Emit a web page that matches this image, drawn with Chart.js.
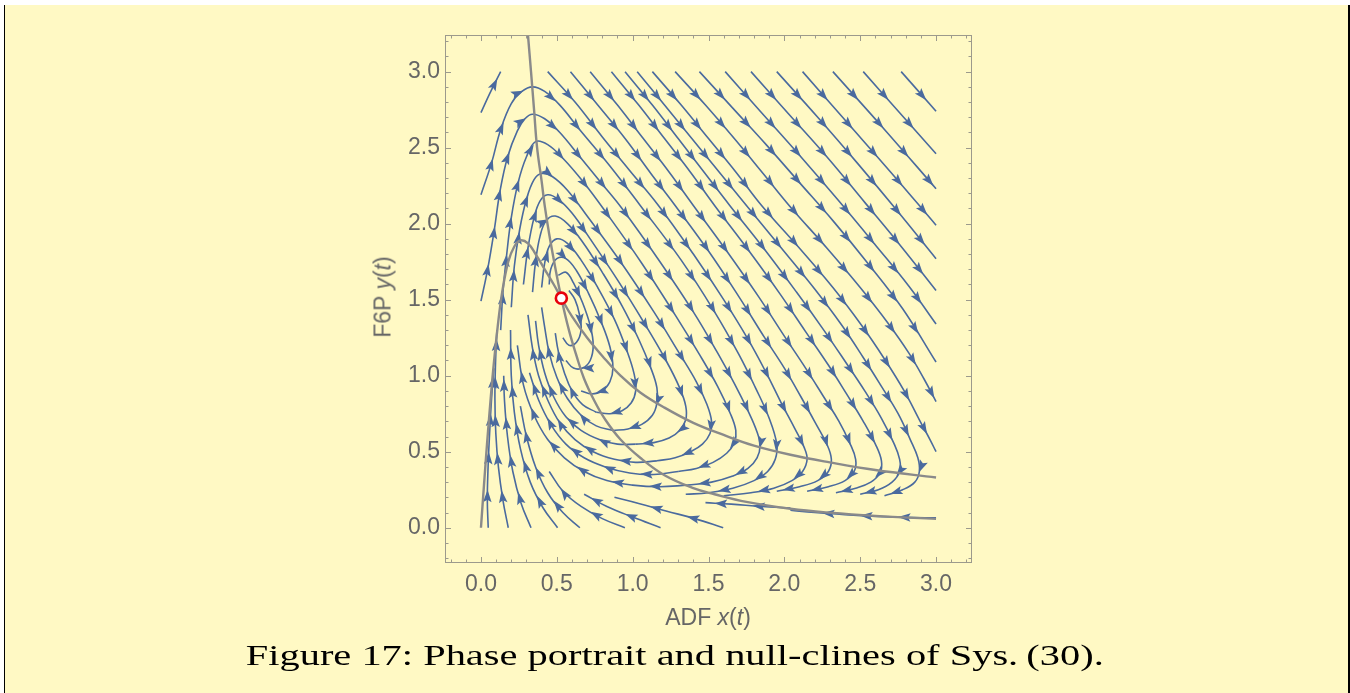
<!DOCTYPE html>
<html>
<head>
<meta charset="utf-8">
<title>Phase portrait</title>
<script src="https://cdn.jsdelivr.net/npm/chart.js@4.4.1/dist/chart.umd.min.js"></script>
<style>
  html, body { margin: 0; padding: 0; background: #ffffff; }
  #box { position: absolute; left: 4px; top: 5px; right: 0; bottom: 0; background: #fff9c4;
         border-left: 1px solid #000; border-right: 2px solid #000; }
  #wrap { position: absolute; left: 0; top: 0; width: 1350px; height: 693px; }
  .axt { position: absolute; font-family: "Liberation Sans", Arial, sans-serif; font-size: 23px;
         color: #666; white-space: nowrap; }
  #ylab { left: 383px; top: 297px; transform: translate(-50%, -50%) rotate(-90deg); }
  #xlab { left: 708px; top: 617px; transform: translate(-50%, -50%); }
  #cap { position: absolute; left: 0; width: 1350px; top: 641px; text-align: center; line-height: 1;
         font-family: "Liberation Serif", "Times New Roman", serif; font-size: 29px; color: #000; white-space: nowrap; }
  #cap span { display: inline-block; transform-origin: 50% 50%; }
</style>
</head>
<body>
<div id="box"></div>
<div id="wrap"><canvas id="phase" width="1350" height="693"></canvas></div>
<div class="axt" id="ylab">F6P <i>y</i>(<i>t</i>)</div>
<div class="axt" id="xlab">ADF <i>x</i>(<i>t</i>)</div>
<div id="cap"><span id="capText">Figure 17: Phase portrait and null-clines of Sys.&#8201;(30).</span></div>

<script>
// tick values
const majorTicks = [0, 0.5, 1.0, 1.5, 2.0, 2.5, 3.0];
const minorTicks = [-0.2, -0.1, 0.1, 0.2, 0.3, 0.4, 0.6, 0.7, 0.8, 0.9, 1.1, 1.2, 1.3, 1.4,
  1.6, 1.7, 1.8, 1.9, 2.1, 2.2, 2.3, 2.4, 2.6, 2.7, 2.8, 2.9, 3.1, 3.2];

// null-cline dy/dt = 0 (steep one)
const ncA_x = [0.31, 0.33, 0.35, 0.37, 0.40, 0.42, 0.45, 0.49, 0.53, 0.58, 0.63, 0.68, 0.75, 0.82,
  0.92, 1.05, 1.21, 1.40, 1.54, 1.75, 2.04, 2.30, 2.60, 3.00];
const ncA_y = [3.24, 3.00, 2.75, 2.50, 2.28, 2.12, 1.93, 1.71, 1.51, 1.30, 1.13, 0.98, 0.83, 0.71,
  0.58, 0.46, 0.345, 0.26, 0.22, 0.17, 0.125, 0.099, 0.078, 0.058];

// null-cline dx/dt = 0 (hump)
const ncB_x = [0.00, 0.02, 0.04, 0.06, 0.08, 0.11, 0.14, 0.18, 0.22, 0.26, 0.31, 0.36, 0.42, 0.48,
  0.53, 0.60, 0.70, 0.80, 0.92, 1.05, 1.21, 1.40, 1.60, 1.80, 2.04, 2.30, 2.60, 3.00];
const ncB_y = [0.00, 0.28, 0.55, 0.80, 1.03, 1.32, 1.55, 1.75, 1.85, 1.89, 1.87, 1.80, 1.70, 1.60,
  1.51, 1.39, 1.25, 1.13, 1.00, 0.89, 0.79, 0.69, 0.61, 0.54, 0.48, 0.43, 0.38, 0.33];

// equilibrium
const fixedPoint = [0.53, 1.51];

// stream lines, flow order, x,y pairs
const streams = [
  [0.00,2.73, 0.06,2.86, 0.13,3.00],
  // arches over the steep null-cline
  [0.00,2.19, 0.07,2.40, 0.13,2.62, 0.20,2.79, 0.27,2.87, 0.34,2.90, 0.42,2.87, 0.52,2.78, 0.65,2.62, 0.85,2.38,
   1.05,2.12, 1.32,1.76, 1.54,1.42, 1.70,1.14, 1.81,0.92, 1.90,0.72, 1.95,0.55, 1.94,0.45, 1.89,0.37, 1.80,0.31,
   1.66,0.26, 1.50,0.23, 1.35,0.22],
  [0.00,1.49, 0.044,1.70, 0.088,1.96, 0.125,2.21, 0.176,2.44, 0.24,2.61, 0.29,2.69, 0.34,2.72, 0.42,2.69, 0.52,2.60,
   0.66,2.43, 0.80,2.26, 0.93,2.10, 1.18,1.75, 1.40,1.42, 1.56,1.15, 1.67,0.95, 1.76,0.77, 1.82,0.63, 1.84,0.54,
   1.82,0.46, 1.76,0.39, 1.66,0.34, 1.52,0.30, 1.36,0.28],
  [0.13,1.30, 0.145,1.55, 0.17,1.80, 0.20,2.04, 0.245,2.27, 0.30,2.44, 0.36,2.54, 0.44,2.52, 0.54,2.43, 0.67,2.28,
   0.82,2.08, 1.06,1.74, 1.28,1.40, 1.44,1.14, 1.56,0.93, 1.64,0.76, 1.68,0.64, 1.67,0.56, 1.62,0.49, 1.53,0.43,
   1.42,0.39, 1.30,0.37],
  [0.20,1.45, 0.22,1.72, 0.255,1.96, 0.30,2.16, 0.35,2.29, 0.40,2.33, 0.47,2.31, 0.57,2.22, 0.70,2.05, 0.92,1.75,
   1.14,1.42, 1.30,1.16, 1.42,0.96, 1.49,0.81, 1.52,0.70, 1.51,0.62, 1.46,0.55, 1.38,0.50, 1.28,0.46, 1.16,0.44],
  [0.28,1.60, 0.31,1.84, 0.35,2.04, 0.39,2.15, 0.44,2.19, 0.51,2.16, 0.60,2.07, 0.72,1.90, 0.90,1.63, 1.08,1.34,
   1.22,1.10, 1.31,0.92, 1.35,0.80, 1.35,0.71, 1.31,0.64, 1.24,0.59, 1.14,0.56, 1.02,0.55],
  // loops round the equilibrium
  [0.34,1.55, 0.36,1.75, 0.39,1.92, 0.43,2.02, 0.49,2.05, 0.57,2.00, 0.67,1.88, 0.80,1.68, 0.93,1.46, 1.04,1.24,
   1.12,1.05, 1.16,0.92, 1.16,0.82, 1.13,0.74, 1.06,0.68, 0.97,0.65, 0.87,0.64],
  [0.40,1.58, 0.42,1.74, 0.45,1.85, 0.50,1.90, 0.57,1.87, 0.66,1.76, 0.77,1.58, 0.88,1.37, 0.96,1.17, 1.01,1.01,
   1.02,0.90, 0.99,0.82, 0.93,0.77, 0.85,0.75, 0.76,0.76],
  [0.45,1.60, 0.46,1.70, 0.50,1.77, 0.56,1.77, 0.63,1.69, 0.71,1.54, 0.79,1.36, 0.85,1.19, 0.87,1.05, 0.85,0.96,
   0.80,0.90, 0.73,0.88, 0.66,0.90],
  [0.51,1.66, 0.56,1.68, 0.61,1.61, 0.67,1.48, 0.72,1.33, 0.74,1.20, 0.72,1.10, 0.67,1.05, 0.61,1.05, 0.56,1.10],
  [0.58,1.56, 0.62,1.50, 0.65,1.40, 0.66,1.30, 0.63,1.22, 0.58,1.20, 0.54,1.25],
  // return arcs, going up on the left
  [0.87,0.64, 0.76,0.67, 0.66,0.74, 0.57,0.85, 0.50,0.99, 0.45,1.15, 0.42,1.32, 0.40,1.45],
  [0.76,0.76, 0.67,0.81, 0.60,0.90, 0.55,1.02, 0.51,1.16, 0.49,1.28],
  [1.02,0.55, 0.90,0.55, 0.78,0.58, 0.66,0.64, 0.56,0.73, 0.48,0.86, 0.42,1.02, 0.38,1.20, 0.36,1.36],
  [1.16,0.44, 1.02,0.43, 0.88,0.45, 0.74,0.50, 0.62,0.58, 0.52,0.69, 0.44,0.84, 0.38,1.00, 0.34,1.18, 0.31,1.40],
  [1.30,0.37, 1.14,0.35, 0.98,0.36, 0.82,0.40, 0.68,0.46, 0.56,0.55, 0.46,0.68, 0.38,0.84, 0.32,1.02],
  [1.36,0.28, 1.18,0.27, 1.00,0.28, 0.83,0.31, 0.68,0.37, 0.55,0.46, 0.44,0.58, 0.35,0.74, 0.28,0.94, 0.24,1.20],
  // from the bottom edge
  [0.048,0.00, 0.042,0.18, 0.047,0.40, 0.057,0.62, 0.07,0.85, 0.085,1.05],
  [0.18,0.00, 0.145,0.18, 0.115,0.40, 0.098,0.62, 0.092,0.85, 0.096,1.08, 0.105,1.30],
  [0.33,0.00, 0.265,0.16, 0.21,0.37, 0.175,0.60, 0.155,0.84, 0.15,1.00],
  [0.505,0.00, 0.41,0.13, 0.325,0.30, 0.26,0.52, 0.22,0.76, 0.20,1.00, 0.195,1.30],
  [0.652,0.00, 0.54,0.10, 0.44,0.23, 0.36,0.40, 0.30,0.60, 0.26,0.80],
  [0.949,0.00, 0.80,0.06, 0.66,0.14, 0.54,0.24, 0.45,0.37],
  [1.184,0.00, 1.00,0.07, 0.83,0.14, 0.68,0.22],
  [1.597,0.00, 1.41,0.06, 1.22,0.11, 1.04,0.16, 0.88,0.20],
  [3.00,0.065, 2.80,0.068, 2.60,0.075, 2.40,0.086, 2.20,0.10, 2.04,0.115],
  [2.04,0.13, 1.85,0.14, 1.65,0.155, 1.48,0.165],
  // down from the top edge
  [0.44,3.00, 0.62,2.80, 0.80,2.57, 0.98,2.35, 1.17,2.12, 1.40,1.80, 1.60,1.50, 1.76,1.24, 1.88,1.02, 1.98,0.82,
   2.07,0.65, 2.13,0.53, 2.15,0.45, 2.12,0.37, 2.05,0.31, 1.93,0.26, 1.78,0.23, 1.60,0.21],
  [0.59,3.00, 0.77,2.78, 0.95,2.56, 1.12,2.33, 1.28,2.12, 1.50,1.82, 1.70,1.52, 1.87,1.25, 2.00,1.05, 2.11,0.86,
   2.21,0.68, 2.28,0.55, 2.31,0.45, 2.29,0.37, 2.22,0.31, 2.10,0.27, 1.95,0.24],
  [0.72,3.00, 0.90,2.78, 1.07,2.56, 1.24,2.34, 1.40,2.12, 1.62,1.82, 1.83,1.52, 2.00,1.26, 2.14,1.05, 2.26,0.86,
   2.36,0.70, 2.43,0.56, 2.47,0.45, 2.46,0.37, 2.40,0.31, 2.29,0.27, 2.15,0.24],
  [0.86,3.00, 1.04,2.78, 1.21,2.56, 1.38,2.34, 1.54,2.12, 1.76,1.83, 1.97,1.54, 2.14,1.29, 2.29,1.07, 2.41,0.88,
   2.52,0.70, 2.60,0.55, 2.64,0.44, 2.63,0.36, 2.57,0.30, 2.47,0.26, 2.34,0.23],
  [0.95,3.00, 1.13,2.78, 1.30,2.56, 1.47,2.34, 1.64,2.12, 1.87,1.83, 2.08,1.55, 2.26,1.30, 2.41,1.08, 2.53,0.90,
   2.64,0.72, 2.72,0.56, 2.76,0.45, 2.76,0.37, 2.71,0.30, 2.62,0.25, 2.50,0.22],
  [1.03,3.00, 1.21,2.78, 1.39,2.56, 1.57,2.34, 1.75,2.12, 1.98,1.84, 2.20,1.57, 2.38,1.33, 2.52,1.12, 2.64,0.93,
   2.75,0.75, 2.83,0.58, 2.88,0.46, 2.89,0.37, 2.86,0.30, 2.78,0.25, 2.66,0.21],
  [1.13,3.00, 1.32,2.78, 1.50,2.56, 1.68,2.34, 1.85,2.12, 2.09,1.85, 2.32,1.58, 2.51,1.33, 2.66,1.11, 2.79,0.90,
   2.89,0.71, 2.96,0.58, 3.00,0.50],
  [1.28,3.00, 1.48,2.78, 1.67,2.56, 1.86,2.33, 2.04,2.11, 2.28,1.84, 2.50,1.58, 2.68,1.35, 2.82,1.15, 2.92,0.98, 3.00,0.83],
  [1.44,3.00, 1.66,2.76, 1.88,2.52, 2.10,2.27, 2.32,2.02, 2.55,1.74, 2.78,1.44, 3.00,1.09],
  [1.61,3.00, 1.85,2.73, 2.10,2.45, 2.35,2.16, 2.60,1.86, 2.82,1.59, 3.00,1.34],
  [1.78,3.00, 2.03,2.72, 2.28,2.44, 2.53,2.14, 2.77,1.85, 3.00,1.56],
  [1.95,3.00, 2.22,2.70, 2.48,2.40, 2.74,2.09, 3.00,1.77],
  [2.12,3.00, 2.41,2.67, 2.70,2.34, 3.00,1.99],
  [2.32,3.00, 2.66,2.62, 3.00,2.23],
  [2.52,3.00, 2.76,2.73, 3.00,2.46],
  [2.77,3.00, 3.00,2.74]
];

const blue = '#4a6a9e';
const grey = '#8a8a8a';

function pairs(flat) {
  const out = [];
  for (let i = 0; i < flat.length; i += 2) out.push({ x: flat[i], y: flat[i + 1] });
  return out;
}

const datasets = [];
datasets.push({
  data: [{ x: fixedPoint[0], y: fixedPoint[1] }],
  pointRadius: 5.5, pointBackgroundColor: '#ffffff', pointBorderColor: '#e8000b', pointBorderWidth: 2.6,
  showLine: false
});
datasets.push({
  data: ncA_x.map((x, i) => ({ x: x, y: ncA_y[i] })),
  showLine: true, borderColor: grey, borderWidth: 2.4, pointRadius: 0, tension: 0.4
});
datasets.push({
  data: ncB_x.map((x, i) => ({ x: x, y: ncB_y[i] })),
  showLine: true, borderColor: grey, borderWidth: 2.4, pointRadius: 0, tension: 0.4
});
streams.forEach(s => {
  datasets.push({
    data: pairs(s), stream: true,
    showLine: true, borderColor: blue, borderWidth: 1.6, pointRadius: 0, tension: 0.4
  });
});

// arrow heads along each stream line
const arrowHeads = {
  id: 'arrowHeads',
  afterDatasetDraw(chart, args) {
    const ds = chart.data.datasets[args.index];
    if (!ds.stream) return;
    const p = args.meta.data.map(e => [e.x, e.y]);
    const seg = [];
    let total = 0;
    for (let i = 1; i < p.length; i++) {
      const l = Math.hypot(p[i][0] - p[i - 1][0], p[i][1] - p[i - 1][1]);
      seg.push(l);
      total += l;
    }
    const gap = 38;
    const spots = [];
    for (let s = gap; s < total - 1; s += gap) spots.push(s);
    if (!spots.length && total > 12) spots.push(total * 0.85);
    const ctx = chart.ctx;
    ctx.save();
    ctx.fillStyle = blue;
    spots.forEach(s => {
      let i = 0, acc = 0;
      while (i < seg.length - 1 && acc + seg[i] < s) { acc += seg[i]; i++; }
      const t = seg[i] ? (s - acc) / seg[i] : 0;
      const x = p[i][0] + (p[i + 1][0] - p[i][0]) * t;
      const y = p[i][1] + (p[i + 1][1] - p[i][1]) * t;
      const ang = Math.atan2(p[i + 1][1] - p[i][1], p[i + 1][0] - p[i][0]);
      ctx.translate(x, y);
      ctx.rotate(ang);
      ctx.beginPath();
      ctx.moveTo(0, 0);
      ctx.lineTo(-12.5, -4.3);
      ctx.lineTo(-10, 0);
      ctx.lineTo(-12.5, 4.3);
      ctx.closePath();
      ctx.fill();
      ctx.setTransform(1, 0, 0, 1, 0, 0);
    });
    ctx.restore();
  }
};

// frame with inward ticks on all four sides
const frameTicks = {
  id: 'frameTicks',
  afterDraw(chart) {
    const { ctx, chartArea: a, scales } = chart;
    ctx.save();
    ctx.strokeStyle = '#9c9a8c';
    ctx.lineWidth = 1;
    ctx.strokeRect(a.left + 0.5, a.top + 0.5, a.right - a.left - 1, a.bottom - a.top - 1);
    const mark = (v, len) => {
      const px = Math.round(scales.x.getPixelForValue(v)) + 0.5;
      const py = Math.round(scales.y.getPixelForValue(v)) + 0.5;
      ctx.beginPath();
      ctx.moveTo(px, a.bottom); ctx.lineTo(px, a.bottom - len);
      ctx.moveTo(px, a.top); ctx.lineTo(px, a.top + len);
      ctx.moveTo(a.left, py); ctx.lineTo(a.left + len, py);
      ctx.moveTo(a.right, py); ctx.lineTo(a.right - len, py);
      ctx.stroke();
    };
    majorTicks.forEach(v => mark(v, 6));
    minorTicks.forEach(v => mark(v, 3.5));
    ctx.restore();
  }
};

const tickFont = { family: '"Liberation Sans", Arial, sans-serif', size: 23 };

new Chart(document.getElementById('phase'), {
  type: 'scatter',
  data: { datasets: datasets },
  plugins: [arrowHeads, frameTicks],
  options: {
    responsive: false,
    animation: false,
    devicePixelRatio: 1,
    layout: { padding: { left: 0, right: 378, top: 35, bottom: 0 } },
    plugins: { legend: { display: false }, tooltip: { enabled: false } },
    scales: {
      x: {
        type: 'linear', min: -0.237, max: 3.237,
        grid: { display: false }, border: { display: false },
        afterBuildTicks: s => { s.ticks = majorTicks.map(v => ({ value: v })); },
        afterFit: s => { s.height = 130; },
        ticks: { callback: v => v.toFixed(1), font: tickFont, color: '#666', padding: 0, maxRotation: 0, autoSkip: false }
      },
      y: {
        type: 'linear', min: -0.232, max: 3.241,
        grid: { display: false }, border: { display: false },
        afterBuildTicks: s => { s.ticks = majorTicks.map(v => ({ value: v })); },
        afterFit: s => { s.width = 445; },
        ticks: { callback: v => v.toFixed(1), font: tickFont, color: '#666', padding: -3, autoSkip: false }
      }
    }
  }
});

// stretch the caption to the width of the original line
const cap = document.getElementById('capText');
const w = cap.getBoundingClientRect().width;
cap.style.transform = 'scaleX(' + (858 / w).toFixed(4) + ')';
</script>
</body>
</html>
